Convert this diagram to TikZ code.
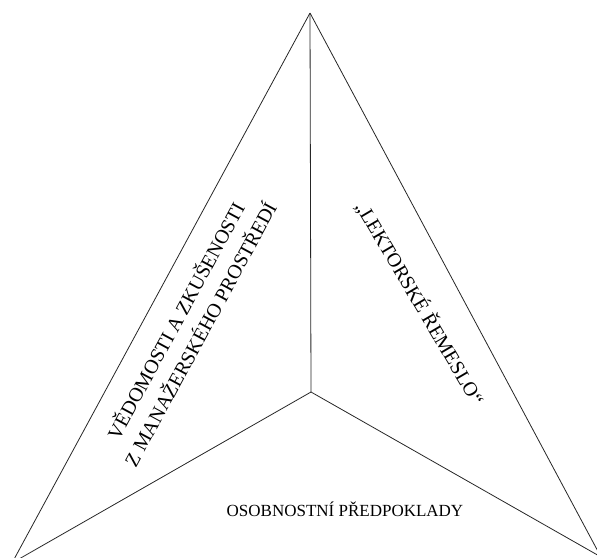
\documentclass[tikz,border=0pt]{standalone}
\usepackage{fontspec}
\setmainfont{Liberation Serif}
\begin{document}
\begin{tikzpicture}[x=1pt,y=-1pt,
  edge/.style={draw=black!85,line width=0.8pt},
  sidelabel/.style={font=\fontsize{20}{28}\selectfont,align=center,inner sep=0pt},
  baselabel/.style={font=\fontsize{17}{20}\selectfont,inner sep=0pt}]
\useasboundingbox (0,0) rectangle (597,557);
\clip (0,0) rectangle (597,557);
\coordinate (A) at (310,13);
\coordinate (C) at (311,392);
\coordinate (L) at (12,563);
\coordinate (R) at (601,557);
\draw[edge] (A) -- (L);
\draw[edge] (A) -- (R);
\draw[edge] (A) -- (C);
\draw[edge] (C) -- (L);
\draw[edge] (C) -- (R);
\node[sidelabel,rotate=61.5] (left) at (187,327) {VĚDOMOSTI A ZKUŠENOSTI\\Z MANAŽERSKÉHO PROSTŘEDÍ};
\node[sidelabel,rotate=-59.5] (right) at (420,303) {„LEKTORSKÉ ŘEMESLO“};
\node[baselabel] (base) at (345,509) {OSOBNOSTNÍ PŘEDPOKLADY};
\end{tikzpicture}
\end{document}
